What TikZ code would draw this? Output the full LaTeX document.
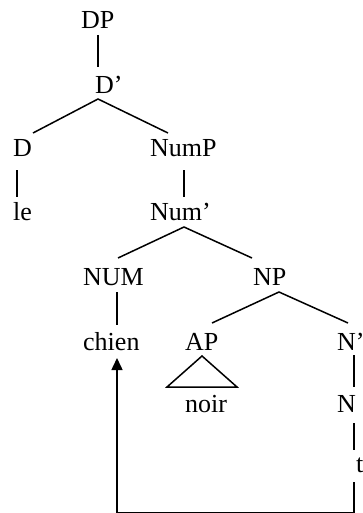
\documentclass[tikz,border=0pt]{standalone}
\usepackage{fontspec}
\setmainfont{Liberation Serif}
\usetikzlibrary{arrows.meta}
\begin{document}
\begin{tikzpicture}[x=1pt,y=-1pt,
  lbl/.style={anchor=base west,inner sep=0pt,font=\fontsize{26}{30}\selectfont},
  branch/.style={line width=1.5pt},
  movearrow/.style={line width=1.5pt,-{Triangle[length=12pt,width=11pt]}}]
\useasboundingbox (0,0) rectangle (362,513);

% labels of the tree
\node[lbl] (dp)    at (81,29)   {DP};
\node[lbl] (dbar)  at (95,94)   {D’};
\node[lbl] (d)     at (13,157)  {D};
\node[lbl] (le)    at (13,220)  {le};
\node[lbl] (nump)  at (150,157) {NumP};
\node[lbl] (numb)  at (150,220) {Num’};
\node[lbl] (num)   at (83,285)  {NUM};
\node[lbl] (chien) at (83,350)  {chien};
\node[lbl] (np)    at (253,285) {NP};
\node[lbl] (ap)    at (185,350) {AP};
\node[lbl] (noir)  at (185,412) {noir};
\node[lbl] (nbar)  at (337,350) {N’};
\node[lbl] (n)     at (337,412) {N};
\node[lbl] (t)     at (356,472) {t};

% branches
\draw[branch] ([shift={(17,6)}]dp.base west) -- ([shift={(3,-27)}]dbar.base west);
\draw[branch] ([shift={(20,-24)}]d.base west) -- ([shift={(3,5)}]dbar.base west)
              -- ([shift={(18,-24)}]nump.base west);
\draw[branch] ([shift={(4,13)}]d.base west) -- ([shift={(4,-23)}]le.base west);
\draw[branch] ([shift={(34,13)}]nump.base west) -- ([shift={(34,-23)}]numb.base west);
\draw[branch] ([shift={(35,-27)}]num.base west) -- ([shift={(34,7)}]numb.base west)
              -- ([shift={(-1,-27)}]np.base west);
\draw[branch] ([shift={(34,7)}]num.base west) -- ([shift={(34,-25)}]chien.base west);
\draw[branch] ([shift={(27,-27)}]ap.base west) -- ([shift={(26,7)}]np.base west)
              -- ([shift={(11,-27)}]nbar.base west);
\draw[branch] ([shift={(17,6)}]ap.base west) -- ([shift={(-18,37)}]ap.base west)
              -- ([shift={(52,37)}]ap.base west) -- cycle;
\draw[branch] ([shift={(17,5)}]nbar.base west) -- ([shift={(17,-25)}]n.base west);
\draw[branch] ([shift={(17,11)}]n.base west) -- ([shift={(-2,-22)}]t.base west);

% movement of the noun from t up to NUM
\draw[movearrow] ([shift={(-2,10)}]t.base west) |- ([shift={(34,162.5)}]chien.base west)
                 -- ([shift={(34,8)}]chien.base west);
\end{tikzpicture}
\end{document}
